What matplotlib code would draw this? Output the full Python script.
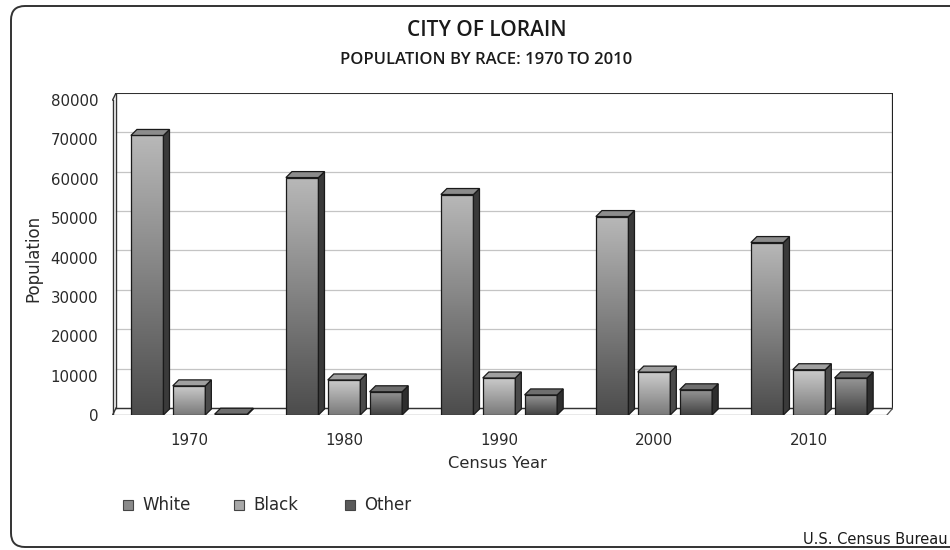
import numpy as np
import matplotlib
matplotlib.use('Agg')
import matplotlib.pyplot as plt
from matplotlib.colors import LinearSegmentedColormap
from matplotlib.patches import Polygon, Rectangle, PathPatch
from matplotlib.path import Path

# census counts for the city of Lorain
years = ['1970', '1980', '1990', '2000', '2010']
races = ['White', 'Black', 'Other']
white = [71000, 60300, 56000, 50400, 43800]
black = [7400, 8900, 9400, 10900, 11500]
other = [200, 5900, 5100, 6400, 9400]
yticks = [0, 10000, 20000, 30000, 40000, 50000, 60000, 70000, 80000]

series = [white, black, other]
# (bottom colour, top colour, top face, side face) per race
shades = [
    ('#4c4c4c', '#b8b8b8', '#8c8c8c', '#3a3a3a'),
    ('#7a7a7a', '#cccccc', '#a0a0a0', '#4a4a4a'),
    ('#424242', '#989898', '#6e6e6e', '#2e2e2e'),
]
legend_colors = ['#8a8a8a', '#a8a8a8', '#5a5a5a']

offsets = [-0.27, 0.0, 0.27]
bar_w = 0.21
floor = 1780        # drop of the front edge of the floor
dep_x = 0.039       # depth of the 3d bars
dep_y = 1520
wall_x = -0.471     # back wall left edge

fig = plt.figure(figsize=(9.5, 5.5), dpi=100)
fig.patch.set_facecolor('white')

# open frame with rounded left corners, running off the right edge (inches)
L, T, B, R, r = 0.11, 5.44, 0.03, 9.7, 0.14
verts = [(R, T), (L + r, T), (L, T), (L, T - r), (L, B + r), (L, B), (L + r, B), (R, B)]
codes = [Path.MOVETO, Path.LINETO, Path.CURVE3, Path.CURVE3,
         Path.LINETO, Path.CURVE3, Path.CURVE3, Path.LINETO]
fig.patches.append(PathPatch(Path(verts, codes), transform=fig.dpi_scale_trans,
                             fill=False, edgecolor='#333333', linewidth=1.4))

ax = fig.add_axes([112 / 950, 135 / 550, 781 / 950, 322 / 550])
xmin, xmax = -0.497, 4.542
ymax = 80000
ax.set_xlim(xmin, xmax)
ax.set_ylim(-floor, ymax)
for s in ax.spines.values():
    s.set_visible(False)

# back wall grid
for t in yticks:
    ax.plot([wall_x, xmax], [t, t], color='#c4c4c4', lw=0.9, zorder=1)
ax.plot([wall_x, xmax], [ymax, ymax], color='#222222', lw=1.3, zorder=2)
ax.plot([xmax - 0.002, xmax - 0.002], [0, ymax], color='#222222', lw=1.6, zorder=2)
ax.plot([wall_x, wall_x], [0, ymax], color='#333333', lw=1.0, zorder=2)
# left wall slab
ax.plot([xmin + 0.004, xmin + 0.004], [-floor, ymax - floor], color='#333333', lw=1.0, zorder=2)
ax.plot([xmin + 0.004, wall_x], [ymax - floor, ymax], color='#333333', lw=1.0, zorder=2)
# floor
ax.plot([wall_x, xmax], [0, 0], color='#333333', lw=1.0, zorder=2)
ax.plot([xmin + 0.004, xmax - dep_x], [-floor, -floor], color='#555555', lw=0.9, zorder=2)
ax.plot([xmin + 0.004, wall_x], [-floor, 0], color='#333333', lw=1.0, zorder=2)
ax.plot([xmax - dep_x, xmax], [-floor, 0], color='#555555', lw=0.9, zorder=2)

grad = np.linspace(0, 1, 128).reshape(-1, 1)
for k, vals in enumerate(series):
    bot, top, topface, side = shades[k]
    cmap = LinearSegmentedColormap.from_list('g%d' % k, [bot, top])
    for i, v in enumerate(vals):
        x0 = i + offsets[k] - bar_w / 2
        x1 = x0 + bar_w
        y0 = -floor
        y1 = v - floor
        ax.imshow(grad, extent=(x0, x1, y0, y1), origin='lower', aspect='auto',
                  cmap=cmap, zorder=3, interpolation='bilinear')
        ax.add_patch(Rectangle((x0, y0), bar_w, v, fill=False,
                               edgecolor='#1a1a1a', lw=0.9, zorder=4))
        ax.add_patch(Polygon([(x1, y0), (x1 + dep_x, y0 + dep_y),
                              (x1 + dep_x, y1 + dep_y), (x1, y1)],
                             closed=True, facecolor=side, edgecolor='#1a1a1a',
                             lw=0.9, zorder=4))
        ax.add_patch(Polygon([(x0, y1), (x1, y1), (x1 + dep_x, y1 + dep_y),
                              (x0 + dep_x, y1 + dep_y)],
                             closed=True, facecolor=topface, edgecolor='#1a1a1a',
                             lw=0.9, zorder=4))

ax.set_xlim(xmin, xmax)
ax.set_ylim(-floor, ymax)

ax.set_yticks([t - floor for t in yticks])
ax.set_yticklabels([str(t) for t in yticks])
ax.set_xticks(range(len(years)))
ax.set_xticklabels(years)
ax.tick_params(axis='y', length=0, pad=10, labelsize=10.8, labelcolor='#2a2a2a')
ax.tick_params(axis='x', length=0, pad=13, labelsize=10.8, labelcolor='#2a2a2a')

fig.text(487 / 950, 1 - 30 / 550, 'CITY OF LORAIN', ha='center', va='center',
         fontsize=15, family='Open Sans', weight='semibold', color='#1a1a1a')
fig.text(486 / 950, 1 - 60 / 550, 'POPULATION BY RACE: 1970 TO 2010', ha='center',
         va='center', fontsize=12, family='Open Sans', weight='semibold', color='#1a1a1a')
fig.text(33 / 950, 1 - 258 / 550, 'Population', rotation=90, ha='center',
         va='center', fontsize=12, color='#2a2a2a')
fig.text(497 / 950, 1 - 463 / 550, 'Census Year', ha='center', va='center',
         fontsize=11.7, color='#2a2a2a')

# legend
for k, name in enumerate(races):
    lx = 123 + 111 * k
    fig.patches.append(Rectangle((lx / 950, 1 - 510 / 550), 10 / 950, 10 / 550,
                                 transform=fig.transFigure, facecolor=legend_colors[k],
                                 edgecolor='#444444', lw=0.8))
    fig.text((lx + 19) / 950, 1 - 505 / 550, name, ha='left', va='center',
             fontsize=12, color='#2a2a2a')

fig.text(948 / 950, 1 - 540 / 550, 'U.S. Census Bureau', ha='right', va='center',
         fontsize=10.5, color='#1a1a1a')

fig.savefig('out.png', dpi=100)
